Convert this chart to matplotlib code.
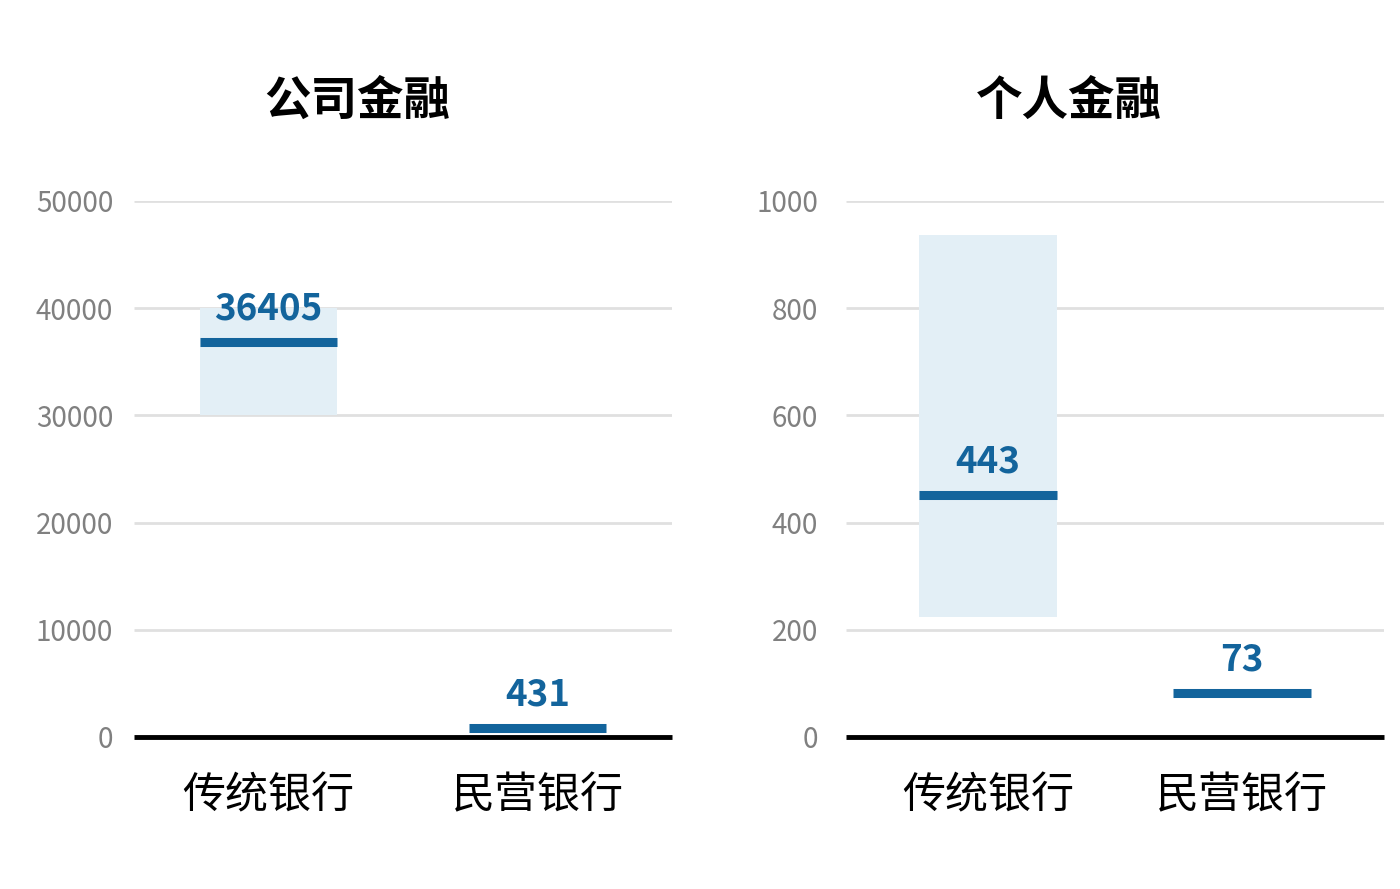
import matplotlib
matplotlib.use('Agg')
import matplotlib.pyplot as plt
from matplotlib.transforms import offset_copy

plt.rcParams['font.family'] = ['Noto Sans CJK SC', 'DejaVu Sans']

# data
categories = ['传统银行', '民营银行']
panel_titles = ['公司金融', '个人金融']
corp_values = [36405, 431]
corp_range = [30000, 40000]       # range band for traditional banks
retail_values = [443, 73]
retail_range = [224, 937]
corp_ticks = [0, 10000, 20000, 30000, 40000, 50000]
retail_ticks = [0, 200, 400, 600, 800, 1000]

BLUE = '#13649c'
BAND = '#e3eff6'
GRID = '#e0e0e0'
LINE_W = 6.5  # points


def draw_panel(ax, values, band, ticks, title, half_span, band_w, title_x, ypad):
    """Draw one panel: range band, value lines and labels"""
    ax.set_xlim(-half_span, 1 + half_span)
    ax.set_ylim(ticks[0], ticks[-1])
    # range band behind the traditional bank line
    ax.bar(0, band[1] - band[0], bottom=band[0], width=band_w, color=BAND, zorder=2)
    # lines sit on top of their value
    line_trans = offset_copy(ax.transData, fig=ax.figure, y=LINE_W / 2, units='points')
    for i, v in enumerate(values):
        ax.hlines(v, i - band_w / 2, i + band_w / 2, color=BLUE, linewidth=LINE_W,
                  capstyle='butt', zorder=3, transform=line_trans)
        ax.annotate(str(v), (i, v), xytext=(0, 19.5), textcoords='offset points',
                    ha='center', va='baseline', fontsize=26.5, fontweight='bold',
                    color=BLUE, zorder=4)
    # grid and zero line
    for t in ticks[1:]:
        ax.axhline(t, color=GRID, linewidth=2, zorder=1, solid_capstyle='butt')
    ax.axhline(0, color='black', linewidth=3.5, zorder=5, clip_on=False,
               solid_capstyle='butt')
    ax.set_yticks(ticks)
    ax.set_yticklabels([str(t) for t in ticks], color='#808080', fontsize=20)
    ax.set_xticks([0, 1])
    ax.set_xticklabels(categories, fontsize=31)
    ax.tick_params(axis='y', length=0, pad=ypad)
    ax.tick_params(axis='x', length=0, pad=27)
    for s in ax.spines.values():
        s.set_visible(False)
    ax.figure.text(title_x, 0.887, title, ha='center', va='center',
                   fontsize=33.5, fontweight='bold')


fig = plt.figure(figsize=(14, 8.89), dpi=100)
ax1 = fig.add_axes([134 / 1400, 0.171, 538 / 1400, 0.603])
ax2 = fig.add_axes([846 / 1400, 0.171, 538 / 1400, 0.603])

draw_panel(ax1, corp_values, corp_range, corp_ticks, panel_titles[0], 0.5, 0.513, 357 / 1400, 15)
draw_panel(ax2, retail_values, retail_range, retail_ticks, panel_titles[1], 0.559, 0.543, 1069 / 1400, 20)

fig.savefig('out.png', dpi=100, facecolor='white')
